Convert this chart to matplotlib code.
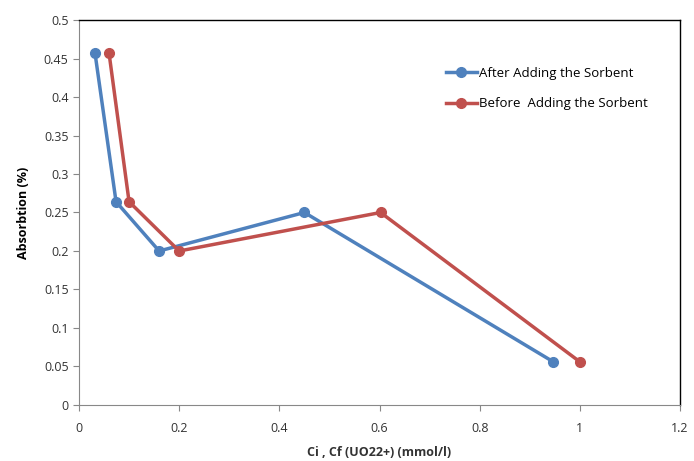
import matplotlib
matplotlib.use("Agg")
import matplotlib.pyplot as plt

after_x = [0.032, 0.074, 0.16, 0.45, 0.947]
after_y = [0.457, 0.264, 0.200, 0.250, 0.056]
before_x = [0.06, 0.10, 0.20, 0.602, 1.0]
before_y = [0.457, 0.264, 0.200, 0.250, 0.056]
xticks = [0, 0.2, 0.4, 0.6, 0.8, 1, 1.2]
yticks = [0, 0.05, 0.1, 0.15, 0.2, 0.25, 0.3, 0.35, 0.4, 0.45, 0.5]

plt.rcParams['font.family'] = ['Open Sans', 'DejaVu Sans']
fig = plt.figure(figsize=(6.94, 4.61), dpi=100)
ax = fig.add_axes([0.1138, 0.1215, 0.8662, 0.8351])

ax.plot(after_x, after_y, color='#4F81BD', lw=2.5, marker='o', ms=7, label='After Adding the Sorbent')
ax.plot(before_x, before_y, color='#C0504D', lw=2.5, marker='o', ms=7, label='Before  Adding the Sorbent')

ax.set_xlim(0, 1.2)
ax.set_ylim(0, 0.5)
ax.set_xticks(xticks)
ax.set_xticklabels(['0', '0.2', '0.4', '0.6', '0.8', '1', '1.2'])
ax.set_yticks(yticks)
ax.set_yticklabels(['0', '0.05', '0.1', '0.15', '0.2', '0.25', '0.3', '0.35', '0.4', '0.45', '0.5'])
ax.tick_params(axis='both', direction='out', length=4, color='#888888', labelsize=9, labelcolor='#333333')
ax.tick_params(axis='x', pad=8)
for s in ['left', 'bottom']:
    ax.spines[s].set_color('#888888')
for s in ['top', 'right']:
    ax.spines[s].set_color('black')
    ax.spines[s].set_linewidth(1.0)

ax.set_xlabel('Ci , Cf (UO22+) (mmol/l)', fontsize=9, fontweight='bold', color='#333333', labelpad=8)
ax.set_ylabel('Absorbtion (%)', fontsize=9, fontweight='bold', color='black', labelpad=10)

leg = ax.legend(loc='upper left', bbox_to_anchor=(0.59, 0.91), frameon=False, fontsize=9.5,
                handlelength=2.4, handletextpad=0.1, labelspacing=1.35)
fig.savefig('out.png', dpi=100)
